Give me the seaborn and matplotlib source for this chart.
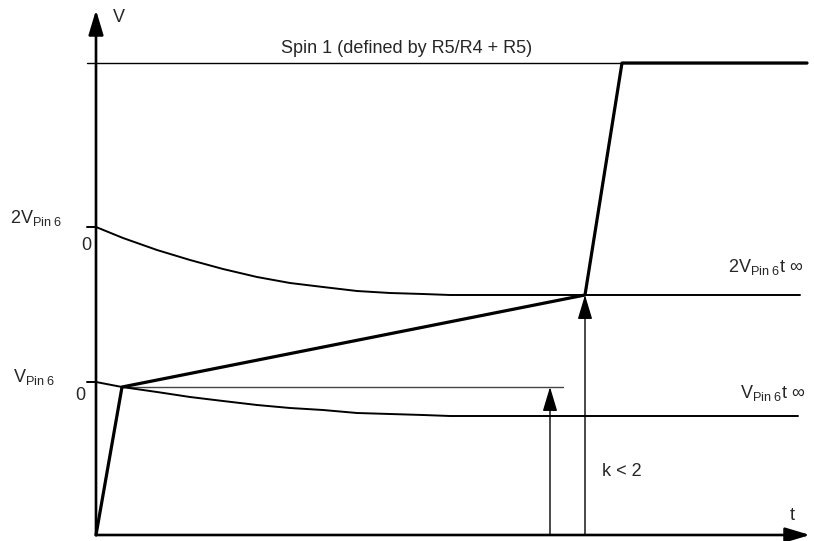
import matplotlib
matplotlib.use("Agg")
import matplotlib.pyplot as plt
import seaborn as sns

# time / voltage in arbitrary units (origin at the axes crossing)
ramp_t = [0, 26, 489, 526, 711]
ramp_v = [0, 148, 240, 472, 472]

spin1_t = [-9, 711]
spin1_v = [472, 472]

curve2_t = [-9, 0, 27, 61, 94, 127, 161, 194, 227, 261, 294, 327, 354, 704]
curve2_v = [308, 308, 297, 285, 275, 266, 258, 252, 248, 244, 242, 241, 240, 240]

curve1_t = [-9, 0, 26, 61, 94, 127, 161, 194, 227, 261, 294, 327, 354, 702]
curve1_v = [153, 153, 148, 143, 138, 134, 130, 127, 125, 122, 121, 120, 119, 119]

hold_t = [26, 467]
hold_v = [148, 148]

arrow_t = [454, 489]
arrow_v = [148, 240]

axis_t_end = 714
axis_v_end = 525

sns.set_style("white")
plt.rcParams["font.family"] = ["Liberation Sans", "DejaVu Sans"]
plt.rcParams["mathtext.fontset"] = "custom"
plt.rcParams["mathtext.rm"] = "Liberation Sans"
plt.rcParams["mathtext.it"] = "Liberation Sans:italic"

fig = plt.figure(figsize=(8.14, 5.41), dpi=100)
ax = fig.add_axes([0, 0, 1, 1])
ax.set_xlim(-96, 718)
ax.set_ylim(-6, 535)
ax.axis("off")

sns.lineplot(x=spin1_t, y=spin1_v, ax=ax, color="black", linewidth=1.0, sort=False, estimator=None)
sns.lineplot(x=hold_t, y=hold_v, ax=ax, color="#444444", linewidth=1.0, sort=False, estimator=None)
sns.lineplot(x=curve2_t, y=curve2_v, ax=ax, color="black", linewidth=1.4, sort=False, estimator=None)
sns.lineplot(x=curve1_t, y=curve1_v, ax=ax, color="black", linewidth=1.4, sort=False, estimator=None)
sns.lineplot(x=ramp_t, y=ramp_v, ax=ax, color="black", linewidth=2.3, sort=False, estimator=None)

head = "-|>,head_length=15,head_width=4.5"
# axes with arrow heads
ax.annotate("", xy=(0, axis_v_end), xytext=(0, 0),
            arrowprops=dict(arrowstyle=head, mutation_scale=1, color="black", lw=1.9,
                            shrinkA=0, shrinkB=0))
ax.annotate("", xy=(axis_t_end, 0), xytext=(0, 0),
            arrowprops=dict(arrowstyle=head, mutation_scale=1, color="black", lw=1.9,
                            shrinkA=0, shrinkB=0))
for t, v in zip(arrow_t, arrow_v):
    ax.annotate("", xy=(t, v), xytext=(t, 0),
                arrowprops=dict(arrowstyle=head, mutation_scale=1, color="black", lw=1.0,
                                shrinkA=0, shrinkB=0))

fs = 13
ax.text(17, 518, "V", fontsize=fs, ha="left", va="center")
ax.text(311, 482, "Spin 1 (defined by R5/R4 + R5)", fontsize=fs, ha="center", va="baseline")
ax.text(-86, 312, r"2V$_{\mathrm{Pin\ 6}}$", fontsize=fs, ha="left", va="baseline")
ax.text(-15, 285, "0", fontsize=fs, ha="left", va="baseline")
ax.text(-83, 153, r"V$_{\mathrm{Pin\ 6}}$", fontsize=fs, ha="left", va="baseline")
ax.text(-21, 135, "0", fontsize=fs, ha="left", va="baseline")
ax.text(632, 263, r"2V$_{\mathrm{Pin\ 6}}$t ∞", fontsize=fs, ha="left", va="baseline")
ax.text(644, 137, r"V$_{\mathrm{Pin\ 6}}$t ∞", fontsize=fs, ha="left", va="baseline")
ax.text(506, 59, "k < 2", fontsize=fs, ha="left", va="baseline")
ax.text(694, 15, "t", fontsize=fs, ha="left", va="baseline")

plt.savefig("out.png", dpi=100)
